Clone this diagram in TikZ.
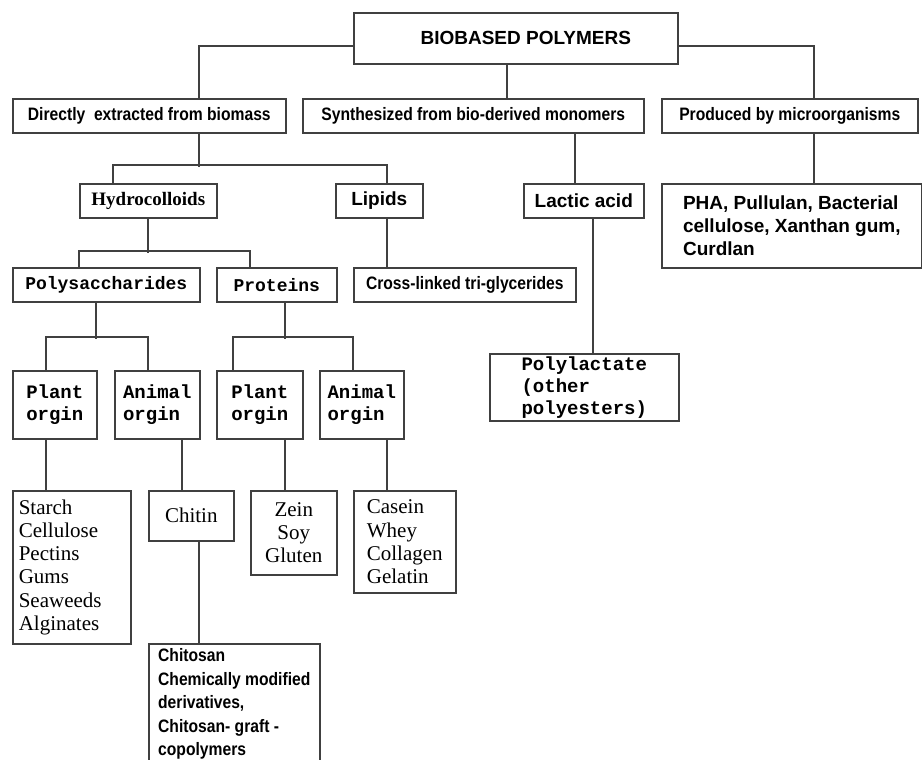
\documentclass[tikz,border=0pt]{standalone}
\usepackage{fontspec}
\newfontfamily\condsf[FakeStretch=0.87]{Liberation Sans}
\newfontfamily\arialsf{Liberation Sans}
\newfontfamily\courmono{Liberation Mono}
\newfontfamily\timesrm{Liberation Serif}
\tikzset{
    box/.style = {draw, black!75, text=black, line width=1.6pt,
        anchor=north west, inner sep=0pt, align=center},
    headtext/.style = {font=\condsf\bfseries\fontsize{18}{23.5}\selectfont},
    sanstext/.style = {font=\arialsf\bfseries\fontsize{19}{23}\selectfont},
    monohead/.style = {font=\courmono\bfseries\fontsize{18}{22}\selectfont},
    monotext/.style = {font=\courmono\bfseries\fontsize{19}{22}\selectfont},
    serifhead/.style = {font=\timesrm\bfseries\fontsize{19}{23}\selectfont},
    seriftext/.style = {font=\timesrm\fontsize{21}{23.3}\selectfont},
    link/.style = {draw, black!75, line width=1.6pt}
}

\begin{document}
\begin{tikzpicture}[x=1pt, y=-1pt]
    \fill[white] (0,0) rectangle (922,760);
    \clip (0,0) rectangle (922,760);
    % level 0 and 1
    \node[box, sanstext, minimum width=324pt, minimum height=51pt] (bio) at (353,12) {\hspace{20pt}BIOBASED POLYMERS};
    \node[box, headtext, minimum width=273pt, minimum height=34pt] (direct) at (12,98) {Directly\ \ extracted from biomass};
    \node[box, headtext, minimum width=341pt, minimum height=34pt] (synth) at (302,98) {Synthesized from bio-derived monomers};
    \node[box, headtext, minimum width=256pt, minimum height=34pt] (prod) at (661,98) {Produced by microorganisms};
    % level 2
    \node[box, serifhead, minimum width=137pt, minimum height=34pt] (hydro) at (79,183) {Hydrocolloids};
    \node[box, sanstext, minimum width=87pt, minimum height=34pt] (lipids) at (335,183) {Lipids};
    \node[box, sanstext, minimum width=120pt, minimum height=34pt] (lactic) at (523,183) {Lactic acid};
    \node[box, sanstext, minimum width=260pt, minimum height=84pt, align=left] (pha) at (661,183) {PHA, Pullulan, Bacterial\\cellulose, Xanthan gum,\\Curdlan};
    % level 3
    \node[box, monohead, minimum width=187pt, minimum height=34pt] (poly) at (12,267) {Polysaccharides};
    \node[box, monohead, minimum width=120pt, minimum height=34pt] (prot) at (216,267) {Proteins};
    \node[box, headtext, minimum width=222pt, minimum height=34pt] (cross) at (353,267) {Cross-linked tri-glycerides};
    \node[box, monotext, minimum width=189pt, minimum height=67pt, align=left] (polylac) at (489,353) {Polylactate\\(other\\polyesters)};
    % level 4
    \node[box, monotext, minimum width=84pt, minimum height=68pt, align=left] (plantA) at (12,370) {Plant\\orgin};
    \node[box, monotext, minimum width=85pt, minimum height=68pt, align=left] (animalA) at (114,370) {Animal\\orgin};
    \node[box, monotext, minimum width=86pt, minimum height=68pt, align=left] (plantB) at (216,370) {Plant\\orgin};
    \node[box, monotext, minimum width=84pt, minimum height=68pt, align=left] (animalB) at (319,370) {Animal\\orgin};
    % level 5
    \node[box, seriftext, minimum width=118pt, minimum height=153pt, text width=106pt, align=left] (starch) at (12,490) {Starch\\Cellulose\\Pectins\\Gums\\Seaweeds\\Alginates};
    \node[box, seriftext, minimum width=85pt, minimum height=50pt] (chitin) at (148,490) {Chitin};
    \node[box, seriftext, minimum width=86pt, minimum height=84pt] (zein) at (250,490) {Zein\\Soy\\Gluten};
    \node[box, seriftext, minimum width=102pt, minimum height=102pt, align=left] (casein) at (353,490) {Casein\\Whey\\Collagen\\Gelatin};
    \node[box, headtext, minimum width=171pt, inner ysep=5pt, align=left] (chitosan) at (148,643) {Chitosan\\Chemically modified\\derivatives,\\Chitosan- graft -\\copolymers};
    % connectors
    \draw[link] (bio.west |- 0,46) -| (direct.north -| 199,0);
    \draw[link] (bio.south -| 507,0) -- (synth.north -| 507,0);
    \draw[link] (bio.east |- 0,46) -| (prod.north -| 814,0);
    \draw[link] (direct.south -| 199,0) -- ++(0,33);
    \draw[link] (hydro.north -| 113,0) -- ++(0,-18) -| (lipids.north -| 387,0);
    \draw[link] (synth.south -| 575,0) -- (lactic.north -| 575,0);
    \draw[link] (prod.south -| 814,0) -- (pha.north -| 814,0);
    \draw[link] (hydro.south -| 148,0) -- ++(0,34);
    \draw[link] (poly.north -| 79,0) -- ++(0,-16) -| (prot.north -| 250,0);
    \draw[link] (lipids.south -| 387,0) -- (cross.north -| 387,0);
    \draw[link] (lactic.south -| 593,0) -- (polylac.north -| 593,0);
    \draw[link] (poly.south -| 96,0) -- ++(0,36);
    \draw[link] (plantA.north -| 46,0) -- ++(0,-33) -| (animalA.north -| 148,0);
    \draw[link] (prot.south -| 285,0) -- ++(0,36);
    \draw[link] (plantB.north -| 233,0) -- ++(0,-33) -| (animalB.north -| 353,0);
    \draw[link] (plantA.south -| 46,0) -- (starch.north -| 46,0);
    \draw[link] (animalA.south -| 182,0) -- (chitin.north -| 182,0);
    \draw[link] (plantB.south -| 285,0) -- (zein.north -| 285,0);
    \draw[link] (animalB.south -| 387,0) -- (casein.north -| 387,0);
    \draw[link] (chitin.south -| 199,0) -- (chitosan.north -| 199,0);
\end{tikzpicture}
\end{document}
